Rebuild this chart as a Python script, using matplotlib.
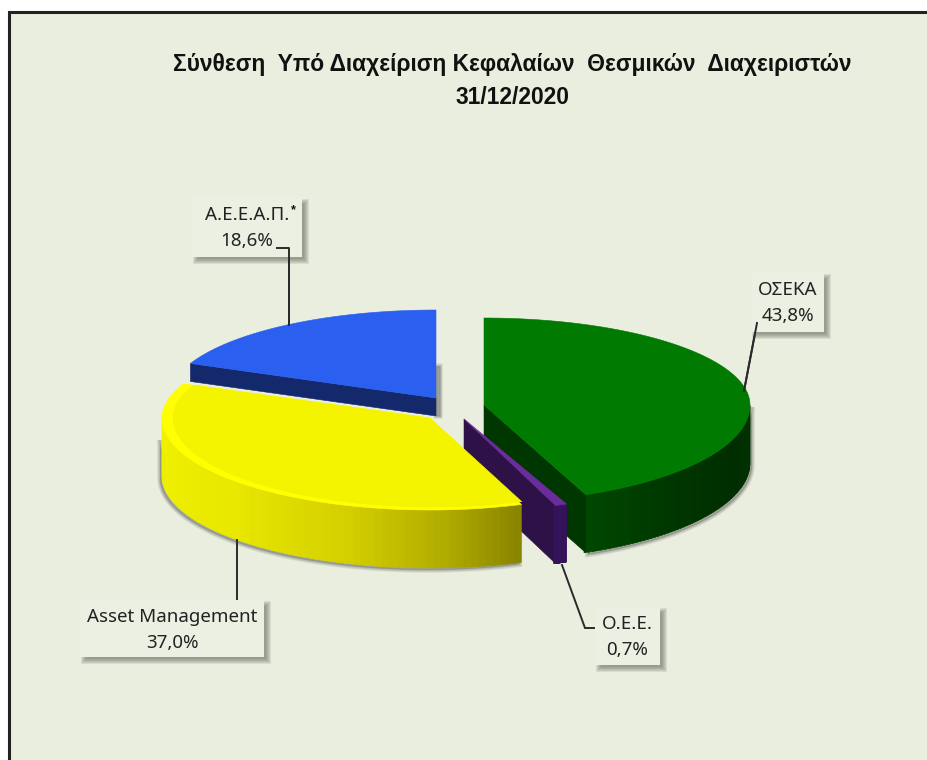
#!/usr/bin/env python3
"""Pseudo-3D pie of assets under management, drawn on a pixel-sized axes."""
import numpy as np
import matplotlib

matplotlib.use("Agg")
import matplotlib.pyplot as plt
from matplotlib.colors import LinearSegmentedColormap
from matplotlib.patches import Rectangle

plt.rcParams["font.family"] = ["Noto Sans", "DejaVu Sans"]

TITLE_LINES = ["Σύνθεση  Υπό Διαχείριση Κεφαλαίων  Θεσμικών  Διαχειριστών", "31/12/2020"]
CATEGORIES = ["ΟΣΕΚΑ", "Ο.Ε.Ε.", "Asset Management", "Α.Ε.Ε.Α.Π."]
SHARES = [43.8, 0.7, 37.0, 18.6]

BG = "#eaeedf"
BOX = "#ecf0e3"

# slice geometry in pixels: apex x, apex y, rx, ry back, ry front
GEOM = [
    (484, 405, 266, 87, 97),
    (464, 419, 268, 92, 92),
    (430, 418, 268, 87, 92),
    (436, 398, 267, 88, 88),
]
DEPTH = 58
BLUE_DEPTH = 18

# label box x0, x1, y0, y1
BOXES = [(751, 824, 273, 332), (595, 660, 607, 665), (80, 264, 600, 657), (192, 302, 198, 257)]
LEADERS = [
    ([757, 744], [323, 391]),
    ([562, 585, 598], [565, 628, 628]),
    ([237, 237], [540, 600]),
    ([277, 289, 289], [248, 248, 325]),
]

edges = np.concatenate([[0], np.cumsum(SHARES)]) / sum(SHARES) * 360


def arc(g, t0, t1, n=120, dx=0, dy=0, drx=0, dry=0):
    cx, cy, rx, ry_back, ry_front = g
    t = np.radians(np.linspace(t0, t1, n))
    c = np.cos(t)
    ry = np.where(c > 0, ry_back, ry_front) + dry
    return cx + dx + (rx + drx) * np.sin(t), cy + dy - ry * c


def top_face(ax, g, t0, t1, color, z, **kw):
    x, y = arc(g, t0, t1, **kw)
    ax.fill(np.r_[g[0], x], np.r_[g[1], y], color=color, lw=0.4, zorder=z)


def outer_wall(ax, g, t0, t1, cmap, z, depth=DEPTH):
    # only the part of the rim that faces the viewer
    t0, t1 = max(t0, 90), min(t1, 270)
    if t1 <= t0:
        return
    ts = np.linspace(t0, t1, 70)
    for a, b in zip(ts[:-1], ts[1:]):
        x, y = arc(g, a, b + 0.4, n=4)
        col = cmap((a - t0) / (t1 - t0))
        ax.fill(np.r_[x, x[::-1]], np.r_[y, y[::-1] + depth], color=col, lw=0.3, zorder=z)


def soft_shadow(ax, xs, ys, z):
    for k in range(4):
        ax.fill(xs, ys, color="#555a50", alpha=0.10, lw=4 - k, ec="#555a50", zorder=z)


def label_box(ax, x0, x1, y0, y1):
    for k in range(6):
        grow = 3 - k
        ax.add_patch(Rectangle((x0 + 4 - grow, y0 + 4 - grow), x1 - x0 + 2 * grow, y1 - y0 + 2 * grow,
                               fc="#5e6258", ec="none", alpha=0.13, zorder=9))
    ax.add_patch(Rectangle((x0, y0), x1 - x0, y1 - y0, fc=BOX, ec="none", zorder=10))


fig = plt.figure(figsize=(9.28, 7.6), dpi=100, facecolor="white")
ax = fig.add_axes([0, 0, 1, 1])
ax.set_xlim(0, 928)
ax.set_ylim(760, 0)
ax.axis("off")
ax.add_patch(Rectangle((9, 12), 940, 770, fc=BG, ec="#222222", lw=2.2, zorder=0))

green, purple, yellow, blue = GEOM

# blue slice, at the back
bx, by = arc(blue, edges[3], edges[4])
soft_shadow(ax, [blue[0], blue[0] + 4, blue[0] + 4, blue[0]],
            [blue[1] - 32, blue[1] - 32, blue[1] + BLUE_DEPTH, blue[1] + BLUE_DEPTH], 1)
ax.fill([bx[0], blue[0], blue[0], bx[0]],
        [by[0], blue[1], blue[1] + BLUE_DEPTH, by[0] + BLUE_DEPTH], color="#14296b", lw=0.4, zorder=2)
top_face(ax, blue, edges[3], edges[4], "#2b5ff0", 3)

# green slice
gx, gy = arc(green, 90, edges[1])
soft_shadow(ax, np.r_[gx, gx[::-1]] + 2, np.r_[gy + DEPTH, gy[::-1]] + 2, 2.5)
green_wall = LinearSegmentedColormap.from_list("g", ["#003000", "#002e00", "#003600", "#004800"])
outer_wall(ax, green, edges[0], edges[1], green_wall, 3)
ax.fill([green[0], gx[-1], gx[-1], green[0]],
        [green[1], gy[-1], gy[-1] + DEPTH, green[1] + DEPTH], color="#003600", lw=0.4, zorder=3.2)
top_face(ax, green, edges[0], edges[1], "#007a00", 3.5)

# purple sliver
px, py = arc(purple, edges[1], edges[2])
ax.fill([purple[0], px[-1], px[-1], purple[0]],
        [purple[1], py[-1], py[-1] + DEPTH, purple[1] + DEPTH], color="#2e1247", lw=0.4, zorder=4)
outer_wall(ax, purple, edges[1], edges[2], LinearSegmentedColormap.from_list("p", ["#35135a", "#35135a"]), 4.1)
top_face(ax, purple, edges[1], edges[2], "#6b2d9e", 4.2)

# yellow slice, in front with a rim highlight
yx, yy = arc(yellow, edges[2], min(edges[3], 270))
soft_shadow(ax, np.r_[yx, yx[::-1]] - 2, np.r_[yy + DEPTH, yy[::-1] + 20] + 2, 4.5)
yellow_wall = LinearSegmentedColormap.from_list(
    "y", [(0, "#8a8500"), (0.14, "#b0ab00"), (0.34, "#d4d000"), (0.6, "#e8e800"), (1, "#f2f200")])
outer_wall(ax, yellow, edges[2], edges[3], yellow_wall, 5)
top_face(ax, yellow, edges[2], edges[3], "#ffff00", 5.5)
top_face(ax, yellow, edges[2], edges[3], "#f4f400", 5.6, dx=3, drx=-8, dry=-3)

for xs, ys in LEADERS:
    ax.plot(xs, ys, color="#2a2a2a", lw=1.4, zorder=8, solid_joinstyle="miter")

for box, name, share in zip(BOXES, CATEGORIES, SHARES):
    x0, x1, y0, y1 = box
    label_box(ax, x0, x1, y0, y1)
    xc = (x0 + x1) / 2
    ax.text(xc, y0 + 17, name, ha="center", va="center", fontsize=13.5, color="#222222", zorder=11)
    ax.text(xc, y0 + 43, f"{share:.1f}%".replace(".", ","), ha="center", va="center",
            fontsize=13.5, color="#222222", zorder=11)
ax.text(293, 210, "*", ha="center", va="center", fontsize=9, fontweight="bold",
        family="Liberation Sans", color="#111111", zorder=11)

# re-draw the leader ends that sit on top of the boxes
ax.plot(LEADERS[3][0], LEADERS[3][1], color="#2a2a2a", lw=1.4, zorder=12)
ax.plot(LEADERS[0][0], LEADERS[0][1], color="#2a2a2a", lw=1.4, zorder=12)

for y, line in zip([65, 98], TITLE_LINES):
    ax.text(512, y, line, ha="center", va="center", fontsize=16.4, fontweight="bold",
            family="Liberation Sans", color="#111111")

fig.savefig("out.png", dpi=100)
plt.close(fig)
